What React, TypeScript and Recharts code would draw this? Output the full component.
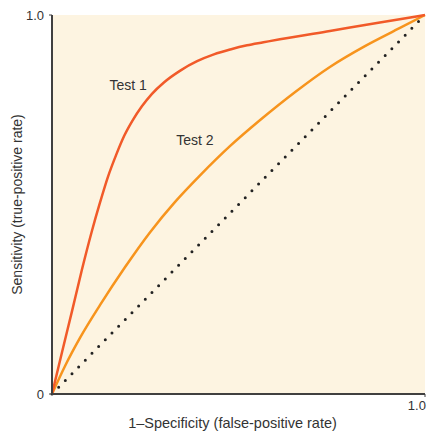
import { LineChart, Line, XAxis, YAxis, CartesianGrid, ReferenceDot, Label } from "recharts";

// ROC curves (x = 1–specificity, y = sensitivity)
const test1X = [0, 0.027, 0.054, 0.08, 0.107, 0.129, 0.15, 0.172, 0.193, 0.215, 0.241, 0.268, 0.3, 0.345, 0.389, 0.434, 0.478, 0.523, 0.567, 0.611, 0.745, 0.879, 1];
const test1Y = [0, 0.111, 0.22, 0.327, 0.43, 0.506, 0.573, 0.631, 0.68, 0.72, 0.759, 0.792, 0.822, 0.854, 0.878, 0.896, 0.909, 0.92, 0.928, 0.936, 0.958, 0.98, 1];

const test2X = [0, 0.035, 0.075, 0.129, 0.196, 0.263, 0.33, 0.397, 0.477, 0.558, 0.652, 0.745, 0.839, 0.933, 1];
const test2Y = [0, 0.074, 0.148, 0.235, 0.335, 0.427, 0.507, 0.577, 0.654, 0.723, 0.797, 0.863, 0.918, 0.966, 1];

const chanceX = [0, 1];
const chanceY = [0, 1];

const yTicks = [0, 1];
const xTicks = [1];

const zip = (xs: number[], ys: number[]) => xs.map((x, i) => ({ x, y: ys[i] }));

const test1 = zip(test1X, test1Y);
const test2 = zip(test2X, test2Y);
const chance = zip(chanceX, chanceY);

const FONT = "'Liberation Sans', Arial, sans-serif";
const TEXT = "#333";

const fmt = (v: number) => (v === 0 ? "0" : v.toFixed(1));

function YTitle({ viewBox }: any) {
  const cy = viewBox.y + viewBox.height / 2;
  return (
    <text x={17} y={cy} transform={`rotate(-90 17 ${cy})`} textAnchor="middle" dominantBaseline="central"
      fontFamily={FONT} fontSize={14} fill={TEXT}>
      Sensitivity (true-positive rate)
    </text>
  );
}

function XTitle({ viewBox }: any) {
  const cx = viewBox.x + viewBox.width / 2 - 6;
  return (
    <text x={cx} y={423} textAnchor="middle" dominantBaseline="central" fontFamily={FONT} fontSize={14.5} fill={TEXT}>
      1–Specificity (false-positive rate)
    </text>
  );
}

const curveLabel = (text: string) => (p: any) => (
  <text x={p.cx} y={p.cy} textAnchor="middle" dominantBaseline="central" fontFamily={FONT} fontSize={14} fill={TEXT}>
    {text}
  </text>
);

export default function App() {
  return (
    <div style={{ position: "absolute", left: 0, top: 0, background: "#fff" }}>
      <LineChart width={430} height={433} margin={{ top: 15, right: 5, left: 0, bottom: 0 }}>
        <CartesianGrid horizontal={false} vertical={false} fill="#fdf4e1" stroke="none" />
        <XAxis
          type="number"
          dataKey="x"
          domain={[0, 1]}
          ticks={xTicks}
          tickFormatter={fmt}
          height={39}
          axisLine={{ stroke: "#404040", strokeWidth: 2 }}
          tickLine={{ stroke: "#404040" }}
          tickSize={3}
          tickMargin={4}
          tick={{ fill: TEXT, fontSize: 13, fontFamily: FONT, dx: -5 }}
        >
          <Label content={XTitle} />
        </XAxis>
        <YAxis
          type="number"
          dataKey="y"
          domain={[0, 1]}
          ticks={yTicks}
          tickFormatter={fmt}
          width={52}
          axisLine={{ stroke: "#404040", strokeWidth: 2 }}
          tickLine={{ stroke: "#404040" }}
          tickSize={3}
          tickMargin={5}
          tick={{ fill: TEXT, fontSize: 13, fontFamily: FONT }}
        >
          <Label content={YTitle} />
        </YAxis>
        <Line
          data={chance}
          dataKey="y"
          type="linear"
          stroke="#222"
          strokeWidth={3}
          strokeDasharray="0 9.5"
          strokeLinecap="round"
          dot={false}
          isAnimationActive={false}
        />
        <Line data={test2} dataKey="y" type="monotone" stroke="#f7941d" strokeWidth={2.5} dot={false} isAnimationActive={false} />
        <Line data={test1} dataKey="y" type="monotone" stroke="#f15a29" strokeWidth={2.5} dot={false} isAnimationActive={false} />
        <ReferenceDot x={0.204} y={0.815} r={0} shape={curveLabel("Test 1")} />
        <ReferenceDot x={0.383} y={0.67} r={0} shape={curveLabel("Test 2")} />
      </LineChart>
    </div>
  );
}
